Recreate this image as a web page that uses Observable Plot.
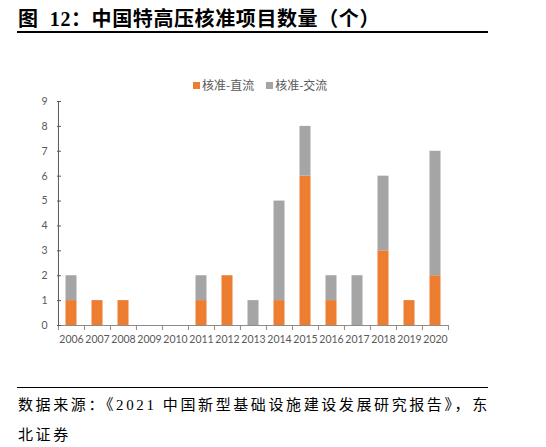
<!DOCTYPE html>
<html>
<head>
<meta charset="utf-8">
<script src="https://cdn.jsdelivr.net/npm/d3@7"></script>
<script src="https://cdn.jsdelivr.net/npm/@observablehq/plot@0.6"></script>
<style>
  body { margin: 0; background: #fff; }
  #wrap { position: relative; width: 546px; height: 447px; overflow: hidden; }
  .titulo {
    position: absolute; left: 18px; top: 3px;
    font-family: "Liberation Serif", "Noto Sans CJK SC", serif;
    font-weight: 700; font-size: 20px; letter-spacing: 0.6px; color: #000;
    white-space: nowrap;
  }
  .linea { position: absolute; left: 17px; width: 471px; background: #000; }
  .leyenda {
    position: absolute; left: 193px; top: 76px;
    font-family: "Noto Sans CJK SC", sans-serif; font-size: 12px; color: #595959;
    white-space: nowrap;
  }
  .leyenda i { display: inline-block; width: 7px; height: 7px; margin-right: 2px; vertical-align: 1px; }
  #chart { position: absolute; left: 0; top: 92px; }
  .pie {
    position: absolute; left: 18px; top: 390px;
    font-family: "Liberation Serif", "Noto Sans CJK SC", serif;
    font-size: 15px; line-height: 30px; letter-spacing: 2.6px; color: #000;
    white-space: nowrap;
  }
</style>
</head>
<body>
<div id="wrap">
  <div class="titulo">图&nbsp; 12：中国特高压核准项目数量（个）</div>
  <div class="linea" style="top:31px;height:1.5px"></div>
  <div class="leyenda" id="leyenda"></div>
  <div id="chart"></div>
  <div class="linea" style="top:387px;height:1px"></div>
  <div class="pie">数据来源：《2021 中国新型基础设施建设发展研究报告》，东<br>北证券</div>
</div>
<script>
  const years = ["2006","2007","2008","2009","2010","2011","2012","2013","2014","2015","2016","2017","2018","2019","2020"];
  const dcValues = [1, 1, 1, 0, 0, 1, 2, 0, 1, 6, 1, 0, 3, 1, 2];
  const acValues = [1, 0, 0, 0, 0, 1, 0, 1, 4, 2, 1, 2, 3, 0, 5];
  const seriesNames = ["核准-直流", "核准-交流"];
  const yTicks = [0, 1, 2, 3, 4, 5, 6, 7, 8, 9];

  const COLORES = ["#ED7D31", "#A5A5A5"];
  const GRIS = "#595959";

  // tabla larga: primero directa, luego alterna (orden de apilado)
  const filas = [
    ...years.map((y, i) => ({ year: y, tipo: seriesNames[0], valor: dcValues[i] })),
    ...years.map((y, i) => ({ year: y, tipo: seriesNames[1], valor: acValues[i] })),
  ];

  const W = 546, H = 265;
  const mL = 57, mR = 98, mT = 9, mB = 32;
  const innerW = W - mL - mR, innerH = H - mT - mB;
  const paso = innerW / years.length;

  const leyenda = document.getElementById("leyenda");
  leyenda.innerHTML = seriesNames.map((n, i) =>
    `<span style="margin-right:${i ? 0 : 12}px"><i style="background:${COLORES[i]}"></i>${n}</span>`
  ).join("");

  const grafico = Plot.plot({
    width: W, height: H,
    marginLeft: mL, marginRight: mR, marginTop: mT, marginBottom: mB,
    style: { fontFamily: "Lato, sans-serif", fontSize: "10.5px", color: GRIS, background: "transparent" },
    x: { type: "band", domain: years, padding: 0, label: null },
    y: { domain: [0, 9], label: null },
    color: { domain: seriesNames, range: COLORES },
    marks: [
      Plot.barY(filas, {
        x: "year", y: "valor", fill: "tipo",
        insetLeft: 7.5, insetRight: 7.5,
      }),
      // eje x y marcas entre categorías
      Plot.ruleY([0], { stroke: "#8c8c8c", strokeWidth: 1 }),
      Plot.ruleX(years, {
        x: (d) => d, dx: -paso / 2, stroke: "#8c8c8c",
        insetTop: innerH, insetBottom: -5,
      }),
      Plot.ruleX(years.slice(-1), {
        x: (d) => d, dx: paso / 2, stroke: "#8c8c8c",
        insetTop: innerH, insetBottom: -5,
      }),
      // eje y con marcas hacia dentro
      Plot.ruleX(years.slice(0, 1), {
        x: (d) => d, dx: -paso / 2, stroke: GRIS, strokeWidth: 1,
      }),
      Plot.tickY(yTicks, { y: (d) => d, stroke: GRIS, insetRight: innerW - 4 }),
      Plot.axisY(yTicks, { tickSize: 0, tickPadding: 10, fill: GRIS, label: null }),
      Plot.axisX({ tickSize: 0, tickPadding: 10, fill: GRIS, label: null }),
    ],
  });
  document.getElementById("chart").appendChild(grafico);
</script>
</body>
</html>
